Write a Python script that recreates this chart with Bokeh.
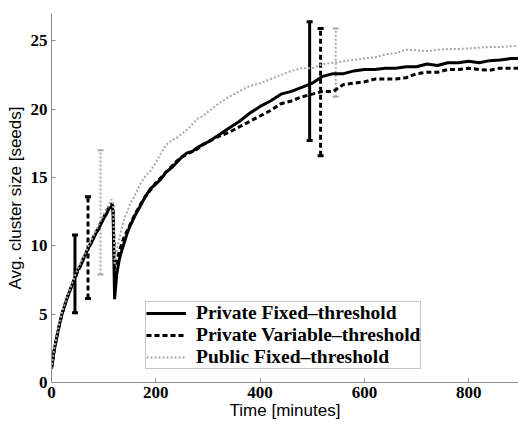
from bokeh.plotting import figure
from bokeh.models import (ColumnDataSource, Whisker, TeeHead, Legend, LegendItem,
                          FixedTicker, Range1d)
from bokeh.embed import file_html
from bokeh.resources import INLINE

time = [0, 5, 10, 15, 20, 25, 30, 35, 40, 45, 50, 55, 60, 65, 70, 75, 80, 85, 90, 95,
        100, 105, 110, 115, 118, 121, 125, 130, 135, 140, 145, 150, 160, 170, 180, 190,
        200, 210, 220, 230, 240, 250, 260, 270, 280, 290, 300, 320, 340, 360, 380, 400,
        420, 440, 460, 480, 500, 520, 540, 560, 580, 600, 620, 640, 660, 680, 700, 720,
        740, 760, 780, 800, 820, 840, 860, 880, 900]

private_fixed = [1.0, 2.3, 3.3, 4.2, 5.0, 5.6, 6.2, 6.7, 7.2, 7.7, 8.2, 8.5, 8.9, 9.4, 9.8,
                 10.1, 10.5, 10.9, 11.2, 11.6, 12.0, 12.3, 12.7, 12.9, 12.6, 6.1, 7.9, 9.0,
                 9.7, 10.3, 10.9, 11.4, 12.2, 12.9, 13.6, 14.2, 14.5, 14.9, 15.4, 15.7, 16.1,
                 16.5, 16.8, 16.9, 17.2, 17.4, 17.6, 18.1, 18.6, 19.1, 19.7, 20.2, 20.6, 21.1,
                 21.3, 21.6, 21.9, 22.4, 22.6, 22.6, 22.8, 22.9, 22.9, 23.0, 23.0, 23.1, 23.1,
                 23.3, 23.2, 23.4, 23.4, 23.5, 23.4, 23.55, 23.6, 23.7, 23.7]

private_variable = [1.0, 2.3, 3.3, 4.2, 5.0, 5.6, 6.2, 6.7, 7.2, 7.6, 8.1, 8.5, 9.0, 9.4, 9.8,
                    10.2, 10.6, 11.0, 11.3, 11.7, 12.1, 12.5, 12.8, 13.1, 12.9, 8.3, 8.8, 9.6,
                    10.2, 10.7, 11.1, 11.5, 12.3, 13.0, 13.6, 14.1, 14.6, 15.0, 15.4, 15.8,
                    16.2, 16.5, 16.7, 16.9, 17.1, 17.4, 17.6, 18.0, 18.3, 18.7, 19.1, 19.5,
                    19.9, 20.4, 20.6, 20.9, 21.1, 21.3, 21.3, 21.8, 21.9, 22.0, 22.2, 22.2,
                    22.2, 22.3, 22.6, 22.7, 22.7, 22.9, 22.9, 23.0, 22.9, 22.85, 23.0, 23.0, 23.0]

public_fixed = [1.0, 2.4, 3.4, 4.3, 5.1, 5.7, 6.3, 6.8, 7.3, 7.8, 8.3, 8.7, 9.1, 9.5, 9.9,
                10.3, 10.7, 11.1, 11.5, 11.9, 12.3, 12.7, 13.0, 13.4, 13.1, 8.6, 9.6, 10.5,
                11.3, 12.0, 12.5, 13.0, 13.7, 14.5, 15.1, 15.5, 16.1, 16.8, 17.4, 17.7, 17.9,
                18.2, 18.5, 18.9, 19.3, 19.5, 19.8, 20.4, 20.9, 21.3, 21.7, 21.9, 22.2, 22.5,
                22.8, 23.0, 23.0, 23.3, 23.4, 23.5, 23.6, 23.7, 23.8, 24.0, 24.1, 24.35, 24.3,
                24.25, 24.35, 24.4, 24.4, 24.45, 24.5, 24.55, 24.55, 24.6, 24.65]

# error bars (time, lower, upper)
pf_err_t = [45, 495]
pf_err_lo = [5.1, 17.7]
pf_err_hi = [10.8, 26.4]
pv_err_t = [70, 516]
pv_err_lo = [6.15, 16.6]
pv_err_hi = [13.6, 25.9]
pub_err_t = [94, 545]
pub_err_lo = [7.9, 20.9]
pub_err_hi = [17.0, 25.9]

x_ticks = [0, 200, 400, 600, 800]
y_ticks = [0, 5, 10, 15, 20, 25]

labels = ["Private Fixed–threshold", "Private Variable–threshold", "Public Fixed–threshold"]

p = figure(width=518, height=424, output_backend="svg", toolbar_location=None,
           x_range=Range1d(0, 895.5), y_range=Range1d(0, 27),
           min_border_left=51, min_border_right=0, min_border_top=13, min_border_bottom=42)
p.outline_line_color = None
p.grid.visible = False
p.background_fill_color = "white"
p.border_fill_color = "white"

solid_style = dict(line_color="black", line_width=3)
dash_style = dict(line_color="black", line_width=3, line_dash="5 3")
dot_style = dict(line_color="#a8a8a8", line_width=2, line_dash="2 2")

r1 = p.line(time, private_fixed, **solid_style)
r2 = p.line(time, private_variable, **dash_style)
r3 = p.line(time, public_fixed, **dot_style)

for t, lo, hi, st in [(pf_err_t, pf_err_lo, pf_err_hi, solid_style),
                      (pv_err_t, pv_err_lo, pv_err_hi, dash_style),
                      (pub_err_t, pub_err_lo, pub_err_hi, dot_style)]:
    src = ColumnDataSource(dict(base=t, lower=lo, upper=hi))
    head_kw = dict(size=6, line_color=st["line_color"], line_width=st["line_width"])
    w = Whisker(base="base", lower="lower", upper="upper", source=src, dimension="height",
                line_color=st["line_color"], line_width=st["line_width"],
                upper_head=TeeHead(**head_kw), lower_head=TeeHead(**head_kw))
    if "line_dash" in st:
        w.line_dash = st["line_dash"]
    p.add_layout(w)

for ax in (p.xaxis[0], p.yaxis[0]):
    ax.axis_line_color = "#8c8c8c"
    ax.major_tick_line_color = "#8c8c8c"
    ax.major_tick_in = 4
    ax.major_tick_out = 0
    ax.minor_tick_line_color = None
    ax.major_label_text_font = "Liberation Serif"
    ax.major_label_text_font_style = "bold"
    ax.major_label_text_font_size = "17px"
    ax.major_label_text_color = "black"
    ax.axis_label_text_font = "Liberation Sans"
    ax.axis_label_text_font_style = "normal"
    ax.axis_label_text_font_size = "17px"
    ax.axis_label_text_color = "black"

p.xaxis.ticker = FixedTicker(ticks=x_ticks)
p.yaxis.ticker = FixedTicker(ticks=y_ticks)
p.xaxis.axis_label = "Time [minutes]"
p.yaxis.axis_label = "Avg. cluster size [seeds]"
p.xaxis.major_label_standoff = 4
p.xaxis.axis_label_standoff = 0
p.yaxis.major_label_standoff = 4
p.yaxis.axis_label_standoff = 3

legend = Legend(items=[LegendItem(label=labels[0], renderers=[r1]),
                       LegendItem(label=labels[1], renderers=[r2]),
                       LegendItem(label=labels[2], renderers=[r3])],
                location=(94, 13))
legend.label_text_font = "Liberation Serif"
legend.label_text_font_style = "bold"
legend.label_text_font_size = "19.5px"
legend.label_text_color = "black"
legend.border_line_color = "#8c8c8c"
legend.border_line_width = 1
legend.background_fill_alpha = 1
legend.padding = 0
legend.spacing = 0
legend.margin = 0
legend.glyph_width = 40
legend.glyph_height = 20
legend.label_height = 20
legend.label_standoff = 10
p.add_layout(legend, "center")

open("out.html", "w").write(file_html(p, INLINE))
